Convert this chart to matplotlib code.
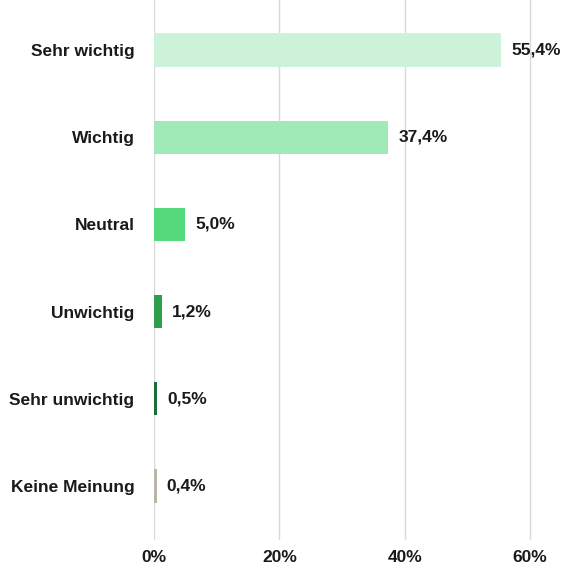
import numpy as np
import matplotlib.pyplot as plt
from matplotlib import font_manager

# data
categories = ["Sehr wichtig", "Wichtig", "Neutral", "Unwichtig", "Sehr unwichtig", "Keine Meinung"]
values = [55.4, 37.4, 5.0, 1.2, 0.5, 0.4]
labels = ["55,4%", "37,4%", "5,0%", "1,2%", "0,5%", "0,4%"]
colors = ["#ccf3d9", "#9feab6", "#55d97d", "#2e9e4a", "#1f6b3d", "#bab5a7"]
xticks = [0, 20, 40, 60]
xticklabels = ["0%", "20%", "40%", "60%"]

names = {f.name for f in font_manager.fontManager.ttflist}
fam = ["Liberation Sans Narrow", "DejaVu Sans"] if "Liberation Sans Narrow" in names else ["Liberation Sans", "DejaVu Sans"]
plt.rcParams['font.family'] = fam

fig = plt.figure(figsize=(5.66, 5.68), dpi=100)
ax = fig.add_axes([154 / 566, 1 - 540 / 568, (65 * 6.267) / 566, 540 / 568])

y = np.arange(len(categories))
ax.barh(y, values, height=0.38, color=colors, zorder=2)
for yi, v, lab in zip(y, values, labels):
    ax.text(v + 1.6, yi, lab, va="center", ha="left", fontsize=12.5, fontweight="bold", color="#1a1a1a")

ax.set_xlim(0, 65)
ax.set_ylim(5.62, -0.573)
ax.set_yticks(y)
ax.set_yticklabels(categories, fontsize=12.5, fontweight="bold", color="#1a1a1a")
ax.set_xticks(xticks)
ax.set_xticklabels(xticklabels, fontsize=12.5, fontweight="bold", color="#1a1a1a")
ax.tick_params(axis="both", length=0)
ax.tick_params(axis="y", pad=14)
ax.tick_params(axis="x", pad=7)
ax.xaxis.grid(True, color="#d9d9d9", linewidth=1, zorder=0)
for s in ax.spines.values():
    s.set_visible(False)

fig.savefig("out.png", dpi=100)
